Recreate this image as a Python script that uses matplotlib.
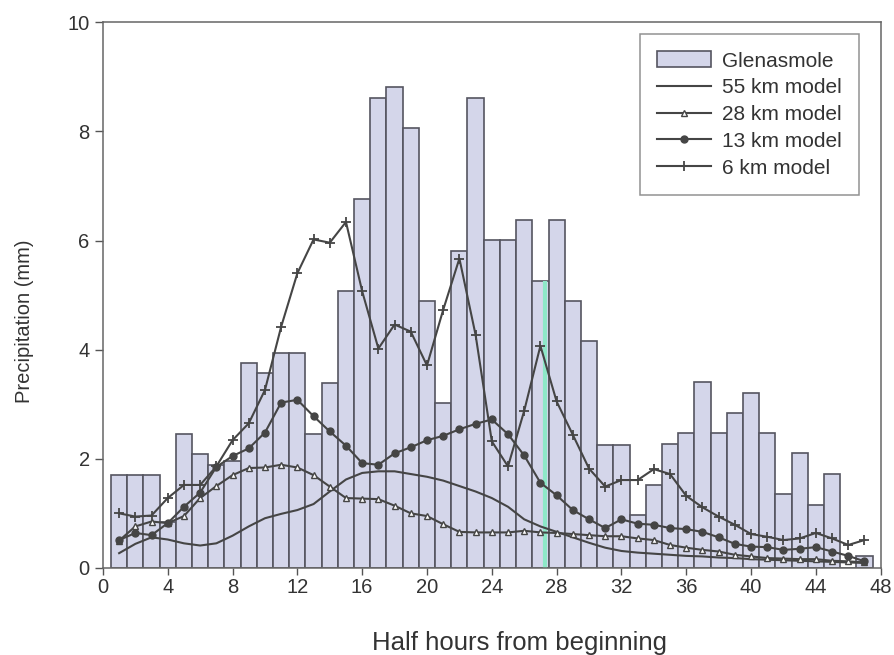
import matplotlib
matplotlib.use('Agg')
import matplotlib.pyplot as plt

plt.rcParams['font.family'] = ['Liberation Sans', 'DejaVu Sans']

hours = list(range(1, 48))
glenasmole = [1.70, 1.70, 1.70, 0.85, 2.45, 2.08, 1.89, 1.95, 3.76, 3.58, 3.94, 3.94, 2.45, 3.39, 5.07, 6.77,
              8.62, 8.82, 8.06, 4.89, 3.03, 5.81, 8.62, 6.01, 6.01, 6.37, 5.26, 6.37, 4.89, 4.15, 2.26, 2.26,
              0.97, 1.52, 2.27, 2.47, 3.41, 2.47, 2.83, 3.21, 2.47, 1.35, 2.10, 1.15, 1.72, 0.0, 0.22]
km55 = [0.27, 0.44, 0.56, 0.52, 0.45, 0.41, 0.45, 0.59, 0.76, 0.91, 0.99, 1.06, 1.17, 1.40, 1.62, 1.74,
        1.77, 1.77, 1.72, 1.67, 1.60, 1.50, 1.40, 1.28, 1.12, 0.89, 0.76, 0.66, 0.56, 0.46, 0.37, 0.31,
        0.28, 0.26, 0.24, 0.22, 0.21, 0.19, 0.18, 0.16, 0.15, 0.14, 0.13, 0.12, 0.11, 0.10, 0.09]
km28 = [0.50, 0.76, 0.85, 0.82, 0.95, 1.28, 1.50, 1.70, 1.83, 1.84, 1.89, 1.84, 1.70, 1.49, 1.28, 1.27,
        1.26, 1.14, 1.00, 0.95, 0.80, 0.66, 0.65, 0.65, 0.65, 0.68, 0.65, 0.64, 0.62, 0.60, 0.58, 0.58,
        0.54, 0.51, 0.42, 0.37, 0.33, 0.30, 0.24, 0.21, 0.18, 0.17, 0.16, 0.16, 0.13, 0.12, 0.10]
km13 = [0.51, 0.64, 0.60, 0.82, 1.12, 1.38, 1.85, 2.05, 2.19, 2.48, 3.03, 3.08, 2.78, 2.50, 2.24, 1.92,
        1.89, 2.10, 2.21, 2.34, 2.42, 2.54, 2.64, 2.72, 2.45, 2.06, 1.56, 1.33, 1.06, 0.89, 0.73, 0.89,
        0.81, 0.79, 0.73, 0.71, 0.66, 0.56, 0.44, 0.39, 0.38, 0.33, 0.35, 0.38, 0.30, 0.22, 0.12]
km6 = [1.00, 0.94, 0.96, 1.28, 1.52, 1.52, 1.86, 2.34, 2.65, 3.26, 4.42, 5.40, 6.02, 5.96, 6.34, 5.07,
       4.02, 4.46, 4.33, 3.71, 4.73, 5.67, 4.27, 2.32, 1.86, 2.88, 4.07, 3.05, 2.44, 1.82, 1.49, 1.61,
       1.61, 1.81, 1.72, 1.32, 1.11, 0.94, 0.79, 0.62, 0.57, 0.51, 0.54, 0.64, 0.54, 0.42, 0.51]
xticks = list(range(0, 49, 4))
yticks = list(range(0, 11, 2))

ink = '#454545'
fig = plt.figure(figsize=(8.95, 6.55), dpi=100)
ax = fig.add_axes([0.115, 0.133, 0.869, 0.833])

ax.bar(hours, glenasmole, width=1.0, color='#d4d6ea', edgecolor='#555560', linewidth=1.2, label='Glenasmole', zorder=1)
# scan artefact: pale green stripe inside bar 27
ax.vlines(27.3, 0, glenasmole[26], color='#8ee8c8', linewidth=3, zorder=2)

ax.plot(hours, km55, color=ink, lw=1.5, label='55 km model', zorder=3)
ax.plot(hours, km28, color=ink, lw=1.5, marker='^', ms=5, mfc='white', mec=ink, mew=1, label='28 km model', zorder=4)
ax.plot(hours, km13, color=ink, lw=1.5, marker='o', ms=5, mfc=ink, mec=ink, label='13 km model', zorder=4)
ax.plot(hours, km6, color=ink, lw=1.5, marker='+', ms=7, mew=1.3, label='6 km model', zorder=5)

ax.set_xlim(0, 48)
ax.set_ylim(0, 10)
ax.set_xticks(xticks)
ax.set_yticks(yticks)
ax.tick_params(direction='out', length=6, width=1, colors='#555', labelsize=14.5, labelcolor='#333')
ax.tick_params(axis='x', length=5, pad=2)
for s in ax.spines.values():
    s.set_color('#666')
    s.set_linewidth(1.1)

ax.set_xlabel('Half hours from beginning', fontsize=18.5, color='#333')
ax.xaxis.set_label_coords(0.535, -0.115)
ax.set_ylabel('Precipitation (mm)', fontsize=14.5, color='#333')
ax.yaxis.set_label_coords(-0.088, 0.452)

h, l = ax.get_legend_handles_labels()
order = [4, 0, 1, 2, 3]
leg = ax.legend([h[i] for i in order], [l[i] for i in order], loc='upper right', bbox_to_anchor=(0.986, 0.998),
                fontsize=15, frameon=True, fancybox=False, handlelength=2.6, handleheight=0.8,
                labelspacing=0.36, borderpad=0.85, handletextpad=0.5)
leg.get_frame().set_edgecolor('#777')
leg.get_frame().set_linewidth(1.1)
for t in leg.get_texts():
    t.set_color('#333')

fig.savefig('out.png', dpi=100)
